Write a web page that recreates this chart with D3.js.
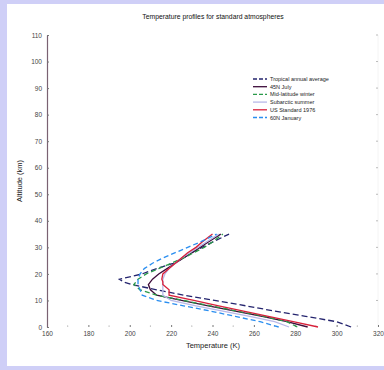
<!DOCTYPE html>
<html>
<head>
<meta charset="utf-8">
<script src="https://cdn.jsdelivr.net/npm/d3@7"></script>
<style>
  body { margin: 0; background: #cfcff7; }
  svg { display: block; font-family: "Liberation Sans", Arial, sans-serif; }
</style>
</head>
<body>
<script>
// altitude levels (km)
const ALT = [0, 2, 4, 6, 8, 10, 12, 14, 16, 17, 18, 20, 22, 24, 26, 28, 30, 32, 35]

// temperature (K) for each atmosphere
const TROPICAL  = [307, 300, 285, 270, 256, 241, 226, 213, 201, 197, 195, 206, 213, 221, 226, 230, 235, 240, 248]
const JULY      = [286, 276, 264, 251, 238, 225, 213, 210, 209, 210, 211, 214, 218, 222, 226, 230, 234, 238, 244]
const MIDWINTER = [281, 276, 265, 252, 239, 226, 213, 205, 202, 203, 204, 208, 214, 220, 226, 231, 236, 240, 245]
const SUBSUMMER = [277, 270, 258, 245, 232, 220, 216, 216, 216, 216, 216, 217, 219, 222, 225, 229, 233, 237, 243]
const STANDARD  = [291, 279, 267, 255, 243, 231, 219, 219, 216, 216, 215.5, 216, 219, 222, 225, 228, 232, 235, 240]
const JANUARY   = [272, 263, 251, 239, 226, 213, 206, 205, 204, 204, 204, 205, 207, 211, 216, 222, 228, 234, 242]

const NAMES = ["Tropical annual average", "45N July", "Mid-latitude winter", "Subarctic summer", "US Standard 1976", "60N January"]
const SERIES = [TROPICAL, JULY, MIDWINTER, SUBSUMMER, STANDARD, JANUARY]
const COLORS = ["#24246e", "#3e0c3a", "#2a9a4a", "#b8b8e8", "#d8203a", "#2a8ef0"]
const DASHES = ["6,3", null, "5,3", null, null, "5,3"]

const X_TICKS = [160, 180, 200, 220, 240, 260, 280, 300, 320]
const Y_TICKS = [0, 10, 20, 30, 40, 50, 60, 70, 80, 90, 100, 110]

const m = { width: 384, height: 370 }
const plot = { left: 47, right: 378, top: 35, bottom: 327 }

const svg = d3.select("body").append("svg")
    .attr("width", m.width)
    .attr("height", m.height)

// white figure panel
svg.append("rect")
    .attr("x", 7).attr("y", 4)
    .attr("width", m.width - 7).attr("height", 362)
    .attr("fill", "#fff")

const x = d3.scaleLinear().domain([160, 320]).range([plot.left, plot.right])
const y = d3.scaleLinear().domain([0, 110]).range([plot.bottom, plot.top])

const defs = svg.append("defs")
const grad = defs.append("linearGradient").attr("id", "topfade")
grad.append("stop").attr("offset", "0%").attr("stop-color", "#eee")
grad.append("stop").attr("offset", "15%").attr("stop-color", "#444")
grad.append("stop").attr("offset", "70%").attr("stop-color", "#555")
grad.append("stop").attr("offset", "100%").attr("stop-color", "#f2f2f2")
const grad2 = defs.append("linearGradient").attr("id", "botfade")
grad2.append("stop").attr("offset", "0%").attr("stop-color", "#f4f4f4")
grad2.append("stop").attr("offset", "88%").attr("stop-color", "#eee")
grad2.append("stop").attr("offset", "91%").attr("stop-color", "#888")
grad2.append("stop").attr("offset", "100%").attr("stop-color", "#888")

// box lines
svg.append("line")
    .attr("x1", plot.left).attr("x2", plot.right)
    .attr("y1", plot.top).attr("y2", plot.top)
    .attr("stroke", "url(#topfade)").attr("stroke-width", 1)
svg.append("line")
    .attr("x1", plot.left).attr("x2", plot.right)
    .attr("y1", plot.bottom).attr("y2", plot.bottom)
    .attr("stroke", "url(#botfade)").attr("stroke-width", 1)
svg.append("line")
    .attr("x1", plot.right).attr("x2", plot.right)
    .attr("y1", plot.top).attr("y2", plot.bottom)
    .attr("stroke", "#f4f4f4")

// right side small ticks
svg.append("g").selectAll("line")
    .data(Y_TICKS.slice(1))
    .enter().append("line")
    .attr("x1", plot.right - 2).attr("x2", plot.right)
    .attr("y1", d => y(d)).attr("y2", d => y(d))
    .attr("stroke", "#bbb")

// x axis
const xAxis = svg.append("g")
    .attr("transform", `translate(0,${plot.bottom})`)
    .call(d3.axisBottom(x).tickValues(X_TICKS).tickSizeInner(-2).tickSizeOuter(0).tickPadding(4).tickFormat(d3.format("d")))
xAxis.select(".domain").remove()
xAxis.selectAll(".tick line").attr("stroke", "#777")
xAxis.selectAll("text").attr("font-size", 6.5).attr("fill", "#444")

// x minor ticks
svg.append("g").selectAll("circle")
    .data(X_TICKS.slice(0, -1).map(d => d + 10))
    .enter().append("circle")
    .attr("cx", d => x(d)).attr("cy", plot.bottom - 1)
    .attr("r", 0.6).attr("fill", "#888")

// y axis
const yAxis = svg.append("g")
    .attr("transform", `translate(${plot.left},0)`)
    .call(d3.axisLeft(y).tickValues(Y_TICKS).tickSizeInner(-2).tickSizeOuter(0).tickPadding(5))
yAxis.select(".domain").attr("stroke", "#7a6272").attr("stroke-width", 1.2)
yAxis.selectAll(".tick line").attr("stroke", "#777")
yAxis.selectAll("text").attr("font-size", 6.5).attr("fill", "#444")

// profiles
const line = d3.line()
    .x(d => x(d[0]))
    .y(d => y(d[1]))

SERIES.forEach(function(s, i) {
    const pts = s.map((t, j) => [t, ALT[j]])
    svg.append("path")
        .datum(pts)
        .attr("fill", "none")
        .attr("stroke", COLORS[i])
        .attr("stroke-width", 1.3)
        .attr("stroke-dasharray", DASHES[i])
        .attr("d", line)
})

// legend
const legend = svg.append("g").attr("transform", "translate(253,79)")
NAMES.forEach(function(n, i) {
    const row = legend.append("g").attr("transform", `translate(0,${i * 7.7})`)
    row.append("line")
        .attr("x1", 0).attr("x2", 14)
        .attr("stroke", COLORS[i]).attr("stroke-width", 1.3)
        .attr("stroke-dasharray", DASHES[i] ? "4,2" : null)
    row.append("text")
        .attr("x", 17).attr("y", 2)
        .attr("font-size", 5.5).attr("fill", "#222")
        .text(n)
})

// title and axis labels
svg.append("text")
    .attr("x", 213).attr("y", 19)
    .attr("text-anchor", "middle")
    .attr("font-size", 6.8).attr("fill", "#111")
    .text("Temperature profiles for standard atmospheres")

svg.append("text")
    .attr("x", 213).attr("y", 348)
    .attr("text-anchor", "middle")
    .attr("font-size", 7.5).attr("fill", "#222")
    .text("Temperature (K)")

svg.append("text")
    .attr("transform", "translate(22,181) rotate(-90)")
    .attr("text-anchor", "middle")
    .attr("font-size", 7.5).attr("fill", "#222")
    .text("Altitude (km)")
</script>
</body>
</html>
